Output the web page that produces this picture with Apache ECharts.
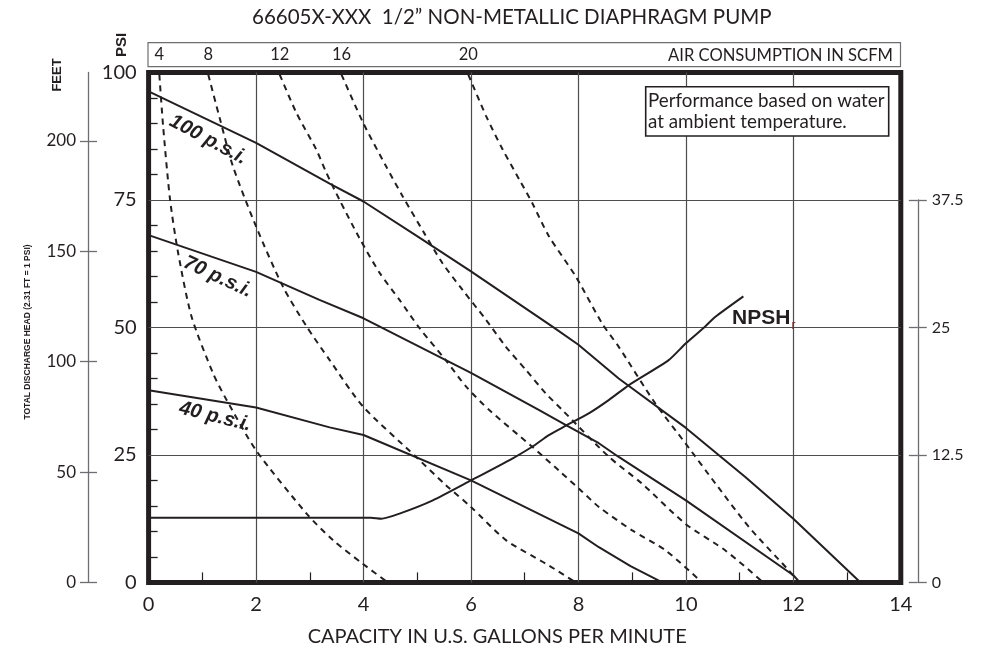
<!DOCTYPE html>
<html><head><meta charset="utf-8">
<script src="https://cdn.jsdelivr.net/npm/echarts@6/dist/echarts.min.js"></script>
<style>html,body{margin:0;padding:0;background:#fff}#c{width:983px;height:667px}</style>
</head><body><div id="c"></div>
<script>
// ---- data ----
const gpmTicks = [0, 2, 4, 6, 8, 10, 12, 14];
const gpmMinorTicks = [1, 3, 5, 7, 9, 11, 13];
const psiTicks = [0, 25, 50, 75, 100];
const psiMinorTicks = [5, 10, 15, 20, 30, 35, 40, 45, 55, 60, 65, 70, 80, 85, 90, 95];
const feetTicks = [0, 50, 100, 150, 200];
const npshTicks = [0, 12.5, 25, 37.5];
const scfmLabels = ['4', '8', '12', '16', '20'];

// discharge pressure curves [GPM, PSI]
const psi100 = [[0,96.3],[2,86.2],[3.37,78.2],[4,74.7],[5.04,67.6],[6,61.0],[7.51,50.2],[8,46.6],[8.75,40.0],[10,30.3],[11.1,20.7],[12,12.5],[13.25,0]];
const psi70  = [[0,68.1],[2,60.9],[3.18,55.4],[4,51.8],[6,41.1],[7.27,33.8],[7.76,30.9],[8.38,27.3],[8.75,24.6],[10,16.1],[12,1.4],[12.12,0]];
const psi40  = [[0,37.7],[2,34.3],[3.37,30.4],[4,28.9],[6,20.0],[8,9.6],[8.38,6.9],[8.97,3.2],[9.56,0]];

// air consumption curves [GPM, PSI]
const scfm4  = [[0.2,99.6],[0.27,89.5],[0.4,75],[0.55,64.6],[0.8,52.1],[1.2,41.0],[1.45,35.8],[2.0,25.9],[2.94,13.5],[3.43,8.3],[3.98,3.7],[4.45,0]];
const scfm8  = [[1.11,99.6],[1.33,90.8],[1.57,81.6],[2.0,69.8],[2.5,58.0],[2.94,50.2],[3.37,43.6],[3.99,34.5],[4.98,24.6],[5.53,19.1],[6.0,14.8],[6.65,8.3],[7.39,3.7],[7.95,0]];
const scfm12 = [[2.44,99.6],[2.75,92.1],[3.12,84.9],[3.31,80.3],[3.55,75.1],[3.92,67.6],[4.30,60.7],[4.67,55.4],[5.04,49.9],[5.53,43.6],[5.91,38.4],[6.34,33.8],[7.14,26.6],[7.64,21.9],[8.07,17.8],[8.38,14.8],[9.0,10.2],[9.62,6.3],[10.3,0]];
const scfm16 = [[3.59,99.6],[3.99,90.2],[4.42,81.6],[4.73,75.7],[5.13,68.5],[5.47,62.6],[5.84,57.4],[6.28,51.5],[6.65,46.2],[7.02,41.7],[7.39,37.1],[7.70,33.8],[8.57,24.6],[9.18,19.4],[9.99,11.5],[10.73,6.3],[11.44,0]];
const scfm20 = [[5.95,99.6],[6.28,91.5],[6.59,84.9],[6.9,79.0],[7.14,74.4],[7.45,67.9],[7.95,60.0],[8.44,50.8],[8.75,46.2],[9.43,35.1],[9.99,27.3],[10.55,19.4],[11.17,10.9],[11.91,2.4],[12.1,0]];

// NPSHr curve [GPM, feet]
const npsh = [[0,6.35],[4.14,6.35],[4.33,6.25],[4.67,6.75],[5.29,8.05],[6.0,10.0],[6.77,12.15],[7.14,13.3],[7.45,14.45],[7.76,15.35],[8.2,16.6],[8.57,17.9],[8.94,19.35],[9.68,21.8],[10.0,23.45],[10.36,25.1],[10.55,26.05],[11.07,28.05]];

// ---- chart ----
const INK = '#231f20';
const GRAYAX = '#6d6e71';
const FONT = 'Lato, "Liberation Sans", sans-serif';
const COND = '"Liberation Sans Narrow", "Liberation Sans", Arial, sans-serif';
const chart = echarts.init(document.getElementById('c'), null, {renderer: 'canvas'});

const gridL = 148.6, gridR = 82.2, gridB = 84.6;
const solid = (name, data, lbl, coord, rot) => ({
  name, type: 'line', data, xAxisIndex: 0, yAxisIndex: 0,
  showSymbol: false, symbol: 'none', smooth: false,
  lineStyle: {color: INK, width: 2}, z: 5,
  markPoint: {symbol: 'circle', symbolSize: 0, silent: true,
    data: [{coord, label: {show: true, formatter: lbl, rotate: rot, fontFamily: COND,
      fontSize: 20, fontWeight: 'bold', fontStyle: 'italic', color: INK}}]}
});
const dashed = (name, data, lbl) => ({
  name, type: 'line', data, xAxisIndex: 0, yAxisIndex: 0,
  showSymbol: false, symbol: 'none', smooth: 0.25,
  lineStyle: {color: INK, width: 2, type: [6, 5]}, z: 4,
  markPoint: {symbol: 'circle', symbolSize: 0, silent: true,
    data: [{coord: data[0], label: {show: true, formatter: lbl, position: 'top', distance: 11,
      fontFamily: FONT, fontSize: 16.5, color: INK}}]}
});
const tickOnlyY = (grid, pos, off, max, vals, color) => ({
  type: 'value', gridIndex: grid, position: pos, offset: off, min: 0, max,
  axisLine: {show: false, onZero: false},
  axisTick: {show: true, inside: true, length: 9, customValues: vals, lineStyle: {color, width: 1.3}},
  axisLabel: {show: false}, splitLine: {show: false}
});

chart.setOption({
  animation: false,
  title: {text: '66605X-XXX  1/2\u201D NON-METALLIC DIAPHRAGM PUMP', left: 247, top: 2,
    textStyle: {fontFamily: FONT, fontSize: 20.5, fontWeight: 'normal', color: INK}},
  grid: [
    {left: gridL, right: gridR, top: 72.5, bottom: gridB, show: true, borderWidth: 5, borderColor: INK, backgroundColor: 'transparent'},
    {left: gridL, right: gridR, top: 200.0, bottom: gridB, show: false}
  ],
  xAxis: [
    {type: 'value', gridIndex: 0, position: 'bottom', min: 0, max: 14, interval: 2,
      name: 'CAPACITY IN U.S. GALLONS PER MINUTE', nameLocation: 'middle', nameGap: 44,
      nameTextStyle: {fontFamily: FONT, fontSize: 20, color: INK, padding: [0, 55, 0, 0]},
      axisLine: {show: false, onZero: false},
      axisTick: {show: false},
      axisLabel: {margin: 12, fontFamily: FONT, fontSize: 20, color: INK},
      splitLine: {show: true, showMinLine: false, showMaxLine: false, lineStyle: {color: '#4d4d4f', width: 1.2}}},
    {type: 'value', gridIndex: 0, position: 'bottom', min: 0, max: 14,
      axisLine: {show: false, onZero: false},
      axisTick: {show: true, inside: true, length: 10, customValues: gpmMinorTicks, lineStyle: {color: INK, width: 1.2}},
      axisLabel: {show: false}, splitLine: {show: false}},
    {type: 'value', gridIndex: 1, min: 0, max: 14, show: false}
  ],
  yAxis: [
    {type: 'value', gridIndex: 0, position: 'left', min: 0, max: 100, interval: 25,
      axisLine: {show: false, onZero: false},
      axisTick: {show: false},
      axisLabel: {margin: 12, fontFamily: FONT, fontSize: 20, color: INK},
      splitLine: {show: true, showMinLine: false, showMaxLine: false, lineStyle: {color: '#4d4d4f', width: 1.2}}},
    tickOnlyY(0, 'left', 0, 100, psiMinorTicks, INK),
    {type: 'value', gridIndex: 0, position: 'left', offset: 60.6, min: 0, max: 231,
      axisLine: {show: true, onZero: false, lineStyle: {color: GRAYAX, width: 1.3}},
      axisTick: {show: true, length: 8, customValues: feetTicks, lineStyle: {color: GRAYAX, width: 1.3}},
      axisLabel: {customValues: feetTicks, margin: 12, fontFamily: FONT, fontSize: 17, color: INK},
      splitLine: {show: false}},
    tickOnlyY(0, 'left', 60.6, 231, feetTicks, GRAYAX),
    {type: 'value', gridIndex: 1, position: 'right', offset: 17, min: 0, max: 37.5,
      axisLine: {show: true, onZero: false, lineStyle: {color: GRAYAX, width: 1.3}},
      axisTick: {show: true, length: 9, customValues: npshTicks, lineStyle: {color: GRAYAX, width: 1.3}},
      axisLabel: {customValues: npshTicks, margin: 14, fontFamily: FONT, fontSize: 16, color: INK},
      splitLine: {show: false}},
    tickOnlyY(1, 'right', 17, 37.5, npshTicks, GRAYAX)
  ],
  series: [
    solid('100 p.s.i.', psi100, '100 p.s.i.', [1.11, 86.8], -28),
    solid('70 p.s.i.', psi70, '70 p.s.i.', [1.29, 59.9], -25),
    solid('40 p.s.i.', psi40, '40 p.s.i.', [1.24, 32.5], -14),
    dashed('4 SCFM', scfm4, scfmLabels[0]),
    dashed('8 SCFM', scfm8, scfmLabels[1]),
    dashed('12 SCFM', scfm12, scfmLabels[2]),
    dashed('16 SCFM', scfm16, scfmLabels[3]),
    dashed('20 SCFM', scfm20, scfmLabels[4]),
    {name: 'NPSHr', type: 'line', data: npsh, xAxisIndex: 2, yAxisIndex: 4,
      showSymbol: false, symbol: 'none', smooth: 0.2, lineStyle: {color: INK, width: 2}, z: 5,
      markPoint: {symbol: 'circle', symbolSize: 0, silent: true,
        data: [{coord: [11.45, 25.9], label: {show: true,
          formatter: '{a|NPSH}{b|r}',
          rich: {a: {fontFamily: COND, fontSize: 21, fontWeight: 'bold', color: INK},
                 b: {fontFamily: COND, fontSize: 12, color: '#7a2e2e', verticalAlign: 'bottom', padding: [14, 0, 0, 1]}}}}]}}
  ],
  graphic: [
    {type: 'rect', x: 148, y: 42.7, shape: {width: 752.5, height: 24}, style: {fill: 'none', stroke: GRAYAX, lineWidth: 1.2}, z: 50},
    {type: 'text', x: 893, y: 56, style: {text: 'AIR CONSUMPTION IN SCFM', align: 'right', verticalAlign: 'middle', font: '16.6px ' + FONT, fill: INK}, z: 50},
    {type: 'rect', x: 645.7, y: 86.7, shape: {width: 243, height: 49.3}, style: {fill: '#fff', stroke: INK, lineWidth: 1.6}, z: 50},
    {type: 'text', x: 648, y: 101, style: {text: 'Performance based on water', align: 'left', verticalAlign: 'middle', font: '18.8px ' + FONT, fill: INK}, z: 51},
    {type: 'text', x: 648, y: 122, style: {text: 'at ambient temperature.', align: 'left', verticalAlign: 'middle', font: '18.8px ' + FONT, fill: INK}, z: 51},
    {type: 'text', x: 122, y: 45, rotation: Math.PI / 2, style: {text: 'PSI', align: 'center', verticalAlign: 'middle', font: 'bold 15px ' + COND, fill: INK}, z: 50},
    {type: 'text', x: 57, y: 75, rotation: Math.PI / 2, style: {text: 'FEET', align: 'center', verticalAlign: 'middle', font: 'bold 13px ' + COND, fill: INK}, z: 50},
    {type: 'text', x: 28, y: 332, rotation: Math.PI / 2, style: {text: 'TOTAL DISCHARGE HEAD (2.31 FT = 1 PSI)', align: 'center', verticalAlign: 'middle', font: 'bold 8.5px ' + COND, fill: INK}, z: 50}
  ]
});
</script>
</body></html>
